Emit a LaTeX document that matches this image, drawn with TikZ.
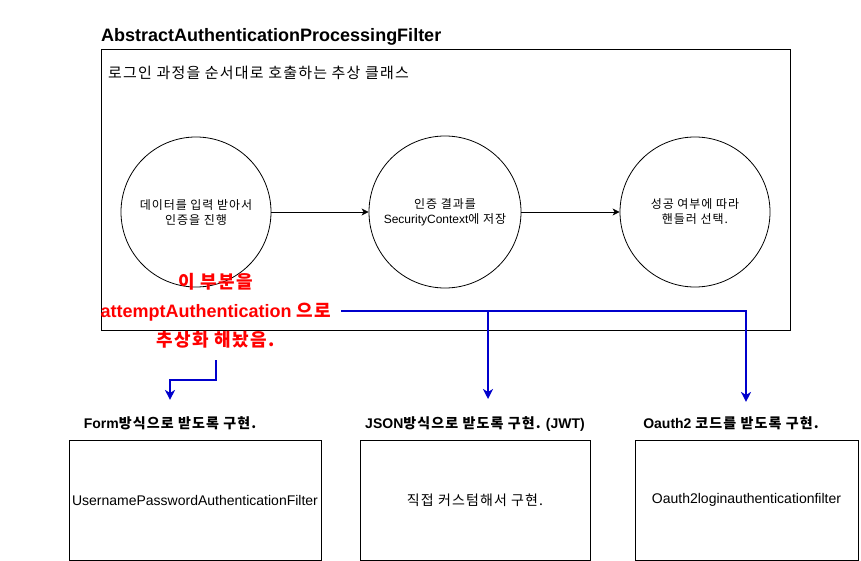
\documentclass[tikz,border=0pt]{standalone}
\usepackage{fontspec}
\setmainfont{Liberation Sans}
\newfontfamily\kr[LetterSpace=8]{Noto Sans CJK KR}
\usetikzlibrary{arrows.meta,calc}
\definecolor{dioblue}{HTML}{0000CC}
\definecolor{diored}{HTML}{FF0000}
\begin{document}
\begin{tikzpicture}[x=1pt,y=-1pt,
  frame/.style={draw=black,line width=1pt,fill=none},
  stepcircle/.style={draw=black,line width=0.8pt,circle,minimum size=150pt,inner sep=0pt,align=center,font=\fontsize{12}{15}\selectfont},
  blackarr/.style={draw=black,line width=0.8pt,-{Stealth[length=7pt,width=7pt,inset=2pt]}},
  bluearr/.style={draw=dioblue,line width=2pt,-{Stealth[length=10pt,width=10pt,inset=3pt]}},
  blueline/.style={draw=dioblue,line width=2pt},
  redtext/.style={text=diored,font=\fontsize{18}{20}\selectfont\bfseries,anchor=base,inner sep=2pt},
  labeltext/.style={font=\fontsize{14}{16}\selectfont\bfseries,anchor=base,inner sep=2pt},
  boxtext/.style={frame,minimum height=120pt,inner sep=0pt,font=\fontsize{14}{16}\selectfont}
]
\useasboundingbox (0,0) rectangle (861,561);
\fill[white] (0,0) rectangle (861,561);

% title and outer frame
\node[anchor=base west,inner sep=0pt,font=\fontsize{18}{20}\selectfont\bfseries] (title) at (101,42) {AbstractAuthenticationProcessingFilter};
\node[frame,minimum width=689pt,minimum height=280pt,inner sep=0pt] (outer) at (445.5,190) {};
\node[anchor=west,inner sep=0pt,font=\fontsize{15}{17}\selectfont] (sub) at (108,73) {\kr 로그인 과정을 순서대로 호출하는 추상 클래스};

% circles
\node[stepcircle] (c1) at (196,212) {{\kr 데이터를 입력 받아서}\\{\kr 인증을 진행}};
\node[stepcircle,minimum size=152pt] (c2) at (445,212) {{\kr 인증 결과를}\\SecurityContext{\kr 에 저장}};
\node[stepcircle] (c3) at (695,212) {{\kr 성공 여부에 따라}\\{\kr 핸들러 선택.}};
\draw[blackarr] (c1.east) -- (c2.west);
\draw[blackarr] (c2.east) -- (c3.west);

% red annotation
\node[redtext] (r1) at (216,288) {\kr 이 부분을};
\node[redtext] (r2) at (216,317) {attemptAuthentication {\kr 으로}};
\node[redtext] (r3) at (216,346) {\kr 추상화 해놨음.};

% bottom labels and boxes
\node[labeltext] (f1) at (170,428) {Form{\kr 방식으로 받도록 구현.}};
\node[labeltext] (f2) at (475,428) {JSON{\kr 방식으로 받도록 구현.} (JWT)};
\node[labeltext] (f3) at (731,428) {Oauth2 {\kr 코드를 받도록 구현.}};

\node[boxtext,minimum width=252pt] (b1) at (195,500) {UsernamePasswordAuthenticationFilter};
\node[boxtext,minimum width=230pt] (b2) at (475,500) {\kr 직접 커스텀해서 구현.};
\node[boxtext,minimum width=223pt] (b3) at (746.5,500) {Oauth2loginauthenticationfilter};

% blue connectors
\coordinate (s1) at (216,360);
\coordinate (s2) at (341,311);
\coordinate (j) at (488,311);
\draw[bluearr] (s1) -- ++(0,20) -| ([yshift=14pt]f1.north);
\draw[blueline] (s2) -- (j);
\draw[bluearr] (j) -- (j |- 0,399);
\draw[bluearr] (j) -| ([xshift=15pt,yshift=12pt]f3.north);
\end{tikzpicture}
\end{document}
